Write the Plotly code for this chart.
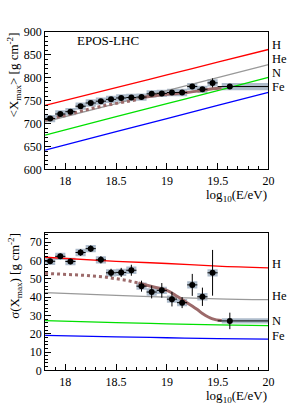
import plotly.graph_objects as go

# ---------------- data ----------------
E_bins = [17.85, 17.95, 18.05, 18.15, 18.25, 18.35, 18.45, 18.55, 18.65, 18.75,
          18.85, 18.95, 19.05, 19.15, 19.25, 19.35, 19.45, 19.62]
xerr_lo = [0.05]*17 + [0.12]
xerr_hi = [0.05]*17 + [0.38]
box_lo = [0.05]*17 + [0.08]
box_hi = [0.05]*17 + [0.38]

xmax_mean = [711, 721, 726, 738, 745, 749, 753, 756, 757, 758,
             765, 766, 768, 768, 781, 775, 789, 781]
xmax_stat = [2, 2, 2, 2, 2, 2, 2, 2, 2, 2, 2, 2, 2, 2, 4, 4, 10, 3]
xmax_sys = [8]*18

sig_mean = [59.6, 62.3, 59.5, 64.4, 66.5, 60.4, 53.3, 53.5, 54.7, 46.0,
            42.8, 43.7, 38.9, 37.0, 46.7, 40.2, 53.3, 27.0]
sig_stat = [1.5, 1.5, 1.5, 1.8, 1.8, 2.0, 2.2, 2.5, 3.0, 3.0,
            3.5, 4.0, 4.0, 3.0, 6.0, 5.0, 12.5, 4.5]
sig_sys = [2]*17 + [1.4]

model_x = [17.8, 18.5, 19.0, 19.5, 20.0]
xmax_H = [740, 778.8, 806.5, 834.3, 862]
xmax_He = [704, 743.8, 772.2, 800.6, 829]
xmax_N = [675, 715.1, 743.7, 772.3, 801]
xmax_Fe = [642, 682.2, 710.9, 739.6, 768.5]
sig_H = [61.8, 59.6, 58.4, 57.0, 56.0]
sig_He = [42.5, 41.0, 40.0, 39.1, 38.6]
sig_N = [27.2, 26.1, 25.4, 24.8, 24.4]
sig_Fe = [19.1, 18.3, 17.8, 17.3, 17.0]

fit_dot_x = [17.8, 18.0, 18.2, 18.4, 18.6, 18.72]
fit_xmax_dot = [708, 718, 730, 740, 748, 753]
fit_sig_dot = [53.0, 52.6, 51.9, 50.9, 49.2, 47.7]
fit_sol_x = [18.72, 18.85, 19.0, 19.1, 19.19, 19.3, 19.35, 19.45, 19.54]
fit_xmax_sol = [756, 760, 764, 766, 768, 771, 773, 776, 778]
fit_sig_sol = [47.7, 45.8, 43.7, 40.5, 37.2, 33.2, 31.1, 28.1, 27.2]

comp_labels = ["H", "He", "N", "Fe"]
comp_colors = ["#ff0000", "#999999", "#00e000", "#0000ff"]
label_y_top = [872, 841, 811, 779]
label_y_bot = [58.2, 40.7, 27.2, 18.8]

xticks = [18, 18.5, 19, 19.5, 20]
xticktext = ["18", "18.5", "19", "19.5", "20"]

FONT = "Liberation Serif"
W, H = 294, 415
BOX = "#aebccb"
FIT = "#9c6a6a"

fig = go.Figure()


def boxes(xs, ys, sys, lo, hi):
    bx, by = [], []
    for x, y, s, l, h in zip(xs, ys, sys, lo, hi):
        bx += [x - l, x + h, x + h, x - l, x - l, None]
        by += [y - s, y - s, y + s, y + s, y - s, None]
    return bx, by


for (means, stat, sys, xa, ya, models, fdot, fsol) in [
    (xmax_mean, xmax_stat, xmax_sys, "x", "y",
     [xmax_H, xmax_He, xmax_N, xmax_Fe], fit_xmax_dot, fit_xmax_sol),
    (sig_mean, sig_stat, sig_sys, "x2", "y2",
     [sig_H, sig_He, sig_N, sig_Fe], fit_sig_dot, fit_sig_sol),
]:
    bx, by = boxes(E_bins, means, sys, box_lo, box_hi)
    fig.add_trace(go.Scatter(x=bx, y=by, mode="lines", fill="toself",
                             fillcolor=BOX, line=dict(width=0),
                             xaxis=xa, yaxis=ya, hoverinfo="skip"))
    for m, c in zip(models, comp_colors):
        fig.add_trace(go.Scatter(x=model_x, y=m, mode="lines",
                                 line=dict(color=c, width=1.3, shape="spline"),
                                 xaxis=xa, yaxis=ya))
    fig.add_trace(go.Scatter(x=fit_dot_x, y=fdot, mode="lines",
                             line=dict(color=FIT, width=3, dash="dot"),
                             xaxis=xa, yaxis=ya))
    fig.add_trace(go.Scatter(x=fit_sol_x, y=fsol, mode="lines",
                             line=dict(color=FIT, width=3, shape="spline"),
                             xaxis=xa, yaxis=ya))
    fig.add_trace(go.Scatter(
        x=E_bins, y=means, mode="markers",
        marker=dict(color="black", size=6),
        error_y=dict(type="data", array=stat, color="black", thickness=1, width=0),
        error_x=dict(type="data", array=xerr_hi, arrayminus=xerr_lo,
                     color="black", thickness=1, width=0),
        xaxis=xa, yaxis=ya))

x0, x1 = 46 / W, 274 / W
ydom_top = [1 - 168 / H, 1 - 26 / H]
ydom_bot = [1 - 376 / H, 1 - 234 / H]

axis_common = dict(showline=True, linecolor="black", linewidth=1, mirror=True,
                   ticks="inside", ticklen=6, tickcolor="black", showgrid=False,
                   zeroline=False, tickfont=dict(family=FONT, size=12, color="black"))

xax = dict(axis_common, range=[17.8, 20], tickvals=xticks, ticktext=xticktext,
           minor=dict(ticks="inside", ticklen=3, dtick=0.1, tick0=17.8,
                      tickcolor="black", showgrid=False))

fig.update_layout(
    width=W, height=H, margin=dict(l=0, r=0, t=0, b=0),
    paper_bgcolor="white", plot_bgcolor="white", showlegend=False,
    font=dict(family=FONT, color="black"),
    xaxis=dict(xax, domain=[x0, x1], anchor="y"),
    yaxis=dict(axis_common, domain=ydom_top, anchor="x", range=[600, 900],
               tickvals=[600, 650, 700, 750, 800, 850, 900],
               minor=dict(ticks="inside", ticklen=3, dtick=10,
                          tickcolor="black", showgrid=False)),
    xaxis2=dict(xax, domain=[x0, x1], anchor="y2"),
    yaxis2=dict(axis_common, domain=ydom_bot, anchor="x2", range=[0, 75],
                tickvals=[0, 10, 20, 30, 40, 50, 60, 70],
                minor=dict(ticks="inside", ticklen=3, dtick=2,
                           tickcolor="black", showgrid=False)),
)

ann = []
for lab, yv in zip(comp_labels, label_y_top):
    ann.append(dict(x=277 / W, xref="paper", y=yv, yref="y", text=lab,
                    xanchor="left", yanchor="middle", showarrow=False,
                    borderpad=0, font=dict(family=FONT, size=12.5)))
for lab, yv in zip(comp_labels, label_y_bot):
    ann.append(dict(x=277 / W, xref="paper", y=yv, yref="y2", text=lab,
                    xanchor="left", yanchor="middle", showarrow=False,
                    borderpad=0, font=dict(family=FONT, size=12.5)))
ann.append(dict(x=77 / W, xref="paper", y=1 - 35 / H, yref="paper", text="EPOS-LHC",
                xanchor="left", yanchor="middle", showarrow=False,
                font=dict(family=FONT, size=13)))
for ytop in [185, 393]:
    ann.append(dict(x=274 / W, xref="paper", y=1 - ytop / H, yref="paper",
                    text="log<sub>10</sub>(E/eV)", xanchor="right", yanchor="top",
                    showarrow=False, borderpad=0, font=dict(family=FONT, size=13)))
ann.append(dict(x=14 / W, xref="paper", y=1 - 24 / H, yref="paper",
                text="&lt;X<sub>max</sub>&gt; [g cm<sup>-2</sup>]", textangle=-90,
                xanchor="center", yanchor="top", showarrow=False,
                font=dict(family=FONT, size=13)))
ann.append(dict(x=15 / W, xref="paper", y=1 - 232 / H, yref="paper",
                text="σ(X<sub>max</sub>) [g cm<sup>-2</sup>]", textangle=-90,
                xanchor="center", yanchor="top", showarrow=False,
                font=dict(family=FONT, size=13)))
fig.update_layout(annotations=ann)

fig.write_html("out.html", config={"displayModeBar": False},
               post_script="document.body.style.margin='0';"
                           "document.body.style.overflow='hidden';")
